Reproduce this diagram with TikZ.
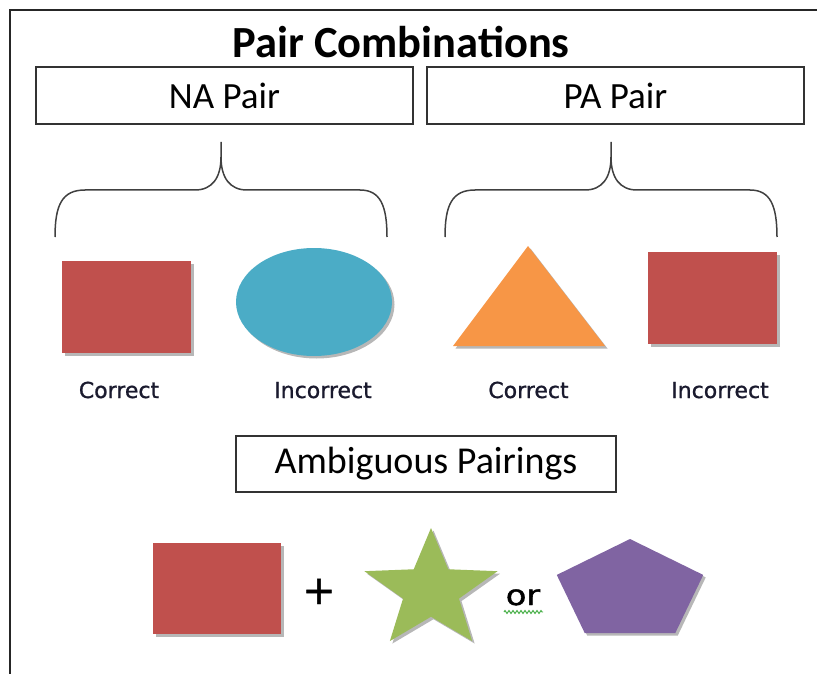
\documentclass[tikz,border=0pt]{standalone}
\usepackage{fontspec}
\setmainfont{Carlito}
\newfontfamily\labelfont[FakeBold=1.0]{DejaVu Sans}
\newfontfamily\orfont[FakeBold=1.5]{DejaVu Sans}
\usetikzlibrary{decorations.pathmorphing}
\definecolor{redfill}{HTML}{C0504D}
\definecolor{bluefill}{HTML}{4BACC6}
\definecolor{orangefill}{HTML}{F79646}
\definecolor{greenfill}{HTML}{9BBB59}
\definecolor{purplefill}{HTML}{8064A2}
\definecolor{boxgray}{HTML}{333333}
\definecolor{bracegray}{HTML}{404040}
\definecolor{squiggle}{HTML}{3CAA3C}
\definecolor{labelcol}{HTML}{1A1A2E}
\begin{document}
\begin{tikzpicture}[x=1pt,y=-1pt,
  pairbox/.style={draw=boxgray, line width=1.5pt, inner sep=0pt,
     minimum height=57pt, font=\fontsize{37}{44}\selectfont},
  shapelabel/.style={anchor=base, inner sep=0pt, text=labelcol, font=\labelfont\fontsize{22}{26}\selectfont},
  bracestyle/.style={draw=bracegray, line width=1.5pt},
  shadowfill/.style={fill=gray!75, opacity=0.75},
  framestyle/.style={draw=black!85, line width=1.2pt}
]
\useasboundingbox (0,0) rectangle (817,674);

% outer frame (top and left only)
\coordinate (frameR) at (817,10);
\coordinate (frameC) at (10,10);
\coordinate (frameB) at (10,674);
\draw[framestyle] (frameR) -- (frameC) -- (frameB);

% title
\node[anchor=base, inner sep=0pt, font=\bfseries\fontsize{44.5}{50}\selectfont] (title) at (401,58) {Pair Combinations};

% header boxes
\node[pairbox, minimum width=377pt] (na) at (224.5,95.5) {NA Pair};
\node[pairbox, minimum width=377pt] (pa) at (615.5,95.5) {PA Pair};

% braces
\draw[bracestyle] (55,237) .. controls (55,205) and (62,190) .. (85,190) -- (195,190)
   .. controls (212,190) and (221,178) .. (221,157) -- (221,142);
\draw[bracestyle] (221,157) .. controls (221,178) and (230,190) .. (247,190) -- (360,190)
   .. controls (380,190) and (387,205) .. (387,237);
\begin{scope}[xshift=390pt]
\draw[bracestyle] (55,237) .. controls (55,205) and (62,190) .. (85,190) -- (195,190)
   .. controls (212,190) and (221,178) .. (221,157) -- (221,142);
\draw[bracestyle] (221,157) .. controls (221,178) and (230,190) .. (247,190) -- (360,190)
   .. controls (380,190) and (387,205) .. (387,237);
\end{scope}

% NA shapes
\fill[shadowfill] (64.5,263.5) rectangle (193.5,355.5);
\fill[redfill] (62,261) rectangle (191,353);
\fill[shadowfill] (316.5,304.5) ellipse [x radius=78, y radius=54];
\fill[bluefill] (314,302) ellipse [x radius=78, y radius=54];

% PA shapes
\fill[shadowfill] (530.5,248.5) -- (455.5,348.5) -- (607.5,348.5) -- cycle;
\fill[orangefill] (528,246) -- (453,346) -- (605,346) -- cycle;
\fill[shadowfill] (650.5,254.5) rectangle (779.5,346.5);
\fill[redfill] (648,252) rectangle (777,344);

% labels
\node[shapelabel] (c1) at (119,398) {Correct};
\node[shapelabel] (i1) at (323,398) {Incorrect};
\node[shapelabel] (c2) at (528.5,398) {Correct};
\node[shapelabel] (i2) at (720,398) {Incorrect};

% ambiguous box
\node[pairbox, minimum width=380pt, minimum height=56pt, font=\fontsize{38}{44}\selectfont] (amb) at (426,464) {Ambiguous Pairings};

% bottom row
\fill[shadowfill] (155.5,545.5) rectangle (283.5,636.5);
\fill[redfill] (153,543) rectangle (281,634);
\node[anchor=base, inner sep=0pt, font=\labelfont\fontsize{40}{44}\selectfont] (plus) at (319,604) {+};

\begin{scope}[shift={(433.5,593)}, xscale=70, yscale=-62.5]
\fill[shadowfill] (90:1) -- (126:0.42) -- (162:1) -- (198:0.42) -- (234:1) -- (270:0.42)
  -- (306:1) -- (342:0.42) -- (18:1) -- (54:0.42) -- cycle;
\end{scope}
\begin{scope}[shift={(431,590.5)}, xscale=70, yscale=-62.5]
\fill[greenfill] (90:1) -- (126:0.42) -- (162:1) -- (198:0.42) -- (234:1) -- (270:0.42)
  -- (306:1) -- (342:0.42) -- (18:1) -- (54:0.42) -- cycle;
\end{scope}

\node[anchor=base, inner sep=0pt, font=\orfont\fontsize{28}{32}\selectfont] (or) at (523,605) {\scalebox{1.2}[1]{or}};
\coordinate (sqL) at (504,612);
\coordinate (sqR) at (543,612);
\draw[squiggle, line width=0.9pt, decorate, decoration={zigzag, segment length=4pt, amplitude=1.5pt}] (sqL) -- (sqR);

\begin{scope}[shift={(632.5,593.5)}, xscale=77, yscale=-52]
\fill[shadowfill] (90:1) -- (162:1) -- (234:1) -- (306:1) -- (18:1) -- cycle;
\end{scope}
\begin{scope}[shift={(630,591)}, xscale=77, yscale=-52]
\fill[purplefill] (90:1) -- (162:1) -- (234:1) -- (306:1) -- (18:1) -- cycle;
\end{scope}
\end{tikzpicture}
\end{document}
